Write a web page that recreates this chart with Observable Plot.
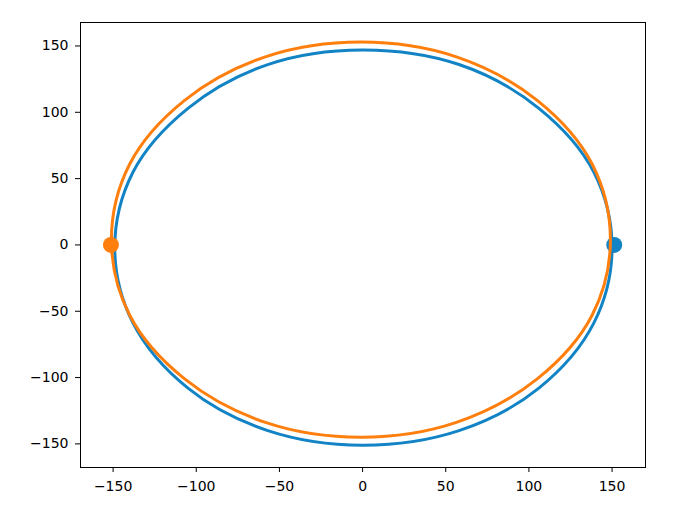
<!DOCTYPE html>
<html>
<head>
<meta charset="utf-8">
<script src="https://cdn.jsdelivr.net/npm/d3@7"></script>
<script src="https://cdn.jsdelivr.net/npm/@observablehq/plot@0.6"></script>
<style>
  html, body { margin: 0; padding: 0; background: white; }
  svg { display: block; }
</style>
</head>
<body>
<div id="chart"></div>
<script>
// Orbit traces (points around each closed path)
const blueX = [150, 139, 106, 58, 0, -57, -105, -138, -149, -138, -105, -57, 0, 58, 106, 139];
const blueY = [-2, 55, 103, 136, 147, 136, 103, 55, -2, -59, -108, -140, -151, -140, -108, -59];
const orangeX = [149, 138, 105, 56, -1, -58, -107, -140, -151, -140, -107, -58, -1, 56, 105, 138];
const orangeY = [4, 61, 109, 142, 153, 142, 109, 61, 4, -53, -101, -134, -145, -134, -101, -53];
// Body positions (dots)
const blueDotX = [151.3];
const blueDotY = [0];
const orangeDotX = [-151.3];
const orangeDotY = [0];
// Tick values
const xTicks = [-150, -100, -50, 0, 50, 100, 150];
const yTicks = [-150, -100, -50, 0, 50, 100, 150];

const blue = "#1283c4";
const orange = "#ff7f0e";
const fmt = d => d < 0 ? "\u2212" + Math.abs(d) : String(d);

const blueLine = blueX.map((x, i) => ({x, y: blueY[i]}));
const orangeLine = orangeX.map((x, i) => ({x, y: orangeY[i]}));
const blueDots = blueDotX.map((x, i) => ({x, y: blueDotY[i]}));
const orangeDots = orangeDotX.map((x, i) => ({x, y: orangeDotY[i]}));

const chart = Plot.plot({
  width: 699,
  height: 512,
  marginLeft: 80,
  marginRight: 54,
  marginTop: 22,
  marginBottom: 45,
  style: {fontFamily: "DejaVu Sans", fontSize: "14px", color: "black", background: "white"},
  x: {domain: [-169.6, 170.1], label: null},
  y: {domain: [-167.8, 167.7], label: null},
  marks: [
    Plot.line(blueLine, {x: "x", y: "y", curve: "catmull-rom-closed", stroke: blue, strokeWidth: 3}),
    Plot.dot(blueDots, {x: "x", y: "y", r: 8, fill: blue, stroke: "none"}),
    Plot.line(orangeLine, {x: "x", y: "y", curve: "catmull-rom-closed", stroke: orange, strokeWidth: 3}),
    Plot.dot(orangeDots, {x: "x", y: "y", r: 8, fill: orange, stroke: "none"}),
    Plot.frame({stroke: "black", strokeWidth: 1}),
    Plot.axisX({ticks: xTicks, tickFormat: fmt, tickSize: 5, tickPadding: 9, label: null, stroke: "black"}),
    Plot.axisY({ticks: yTicks, tickFormat: fmt, tickSize: 5, tickPadding: 7, label: null, stroke: "black"})
  ]
});
document.getElementById("chart").appendChild(chart);
</script>
</body>
</html>
